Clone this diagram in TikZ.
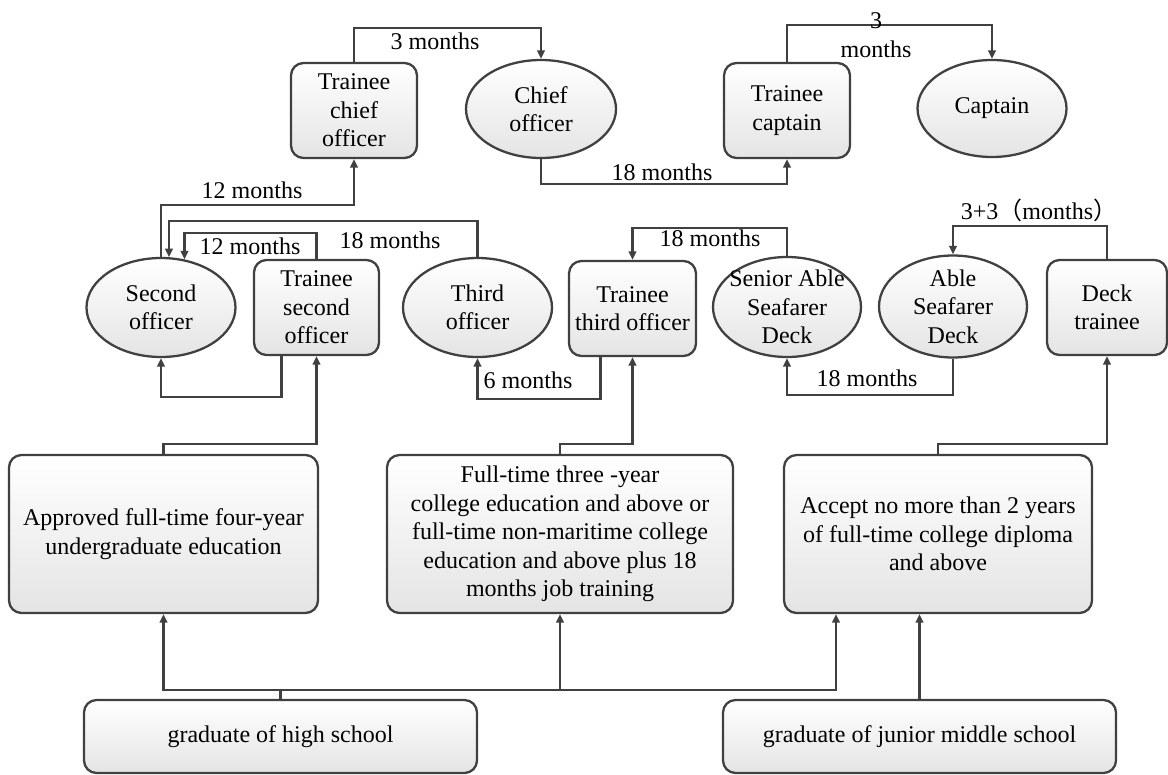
\documentclass[tikz,border=0pt]{standalone}
\usepackage{fontspec}
\setmainfont{Liberation Serif}
\newfontfamily\cjkfont{Noto Sans CJK SC}
\usetikzlibrary{shapes.geometric,arrows.meta,calc}
\definecolor{linec}{HTML}{404040}
\definecolor{fillc}{HTML}{E4E4E4}
\begin{document}
\begin{tikzpicture}[x=0.02cm,y=-0.02cm,
  font=\fontsize{13.66pt}{16.2pt}\selectfont,
  cline/.style={draw=linec, line width=1.3pt},
  arr/.style={cline, -{Triangle[length=0.17cm,width=0.15cm]}},
  abox/.style 2 args={draw=linec, line width=1.3pt, rounded corners=0.25cm,
    top color=white, bottom color=fillc, minimum width=#1*0.02cm,
    minimum height=#2*0.02cm, inner sep=0pt, align=center},
  aell/.style 2 args={ellipse, draw=linec, line width=1.3pt,
    top color=white, bottom color=fillc, minimum width=#1*0.02cm,
    minimum height=#2*0.02cm, inner sep=0pt},
  albl/.style={inner sep=0pt, align=center}
]
\useasboundingbox (0,0) rectangle (1168,774);
\fill[white] (0,0) rectangle (1168,774);

% top row
\node[abox={126}{95}] (tco) at (354,110.5) {Trainee\\chief\\officer};
\node[aell={150}{98}, label={[albl]center:{Chief\\officer}}] (co) at (541,109) {};
\node[abox={126}{95}] (tc) at (787,110.5) {Trainee\\captain};
\node[aell={149}{97}, label={[albl]center:{Captain}}] (cap) at (992,108.5) {};

% middle row
\node[aell={149}{99}, label={[albl]center:{Second\\officer}}] (so) at (161,307.5) {};
\node[abox={125}{95}] (tso) at (316.5,307.5) {Trainee\\second\\officer};
\node[aell={149}{99}, label={[albl]center:{Third\\officer}}] (to) at (477.5,307.5) {};
\node[abox={127}{95}] (tto) at (632.5,308.5) {Trainee\\third officer};
\node[aell={148}{100}, label={[albl]center:{Senior Able\\Seafarer\\Deck}}] (sas) at (787,307) {};
\node[aell={148}{102}, label={[albl]center:{Able\\Seafarer\\Deck}}] (asd) at (953,306.5) {};
\node[abox={120}{95}] (dt) at (1107,307.5) {Deck\\trainee};

% education row
\node[abox={309}{158}] (app) at (163.5,534) {Approved full-time four-year\\undergraduate education};
\node[abox={346}{158}] (ft) at (560,534) {Full-time three -year\\college education and above or\\full-time non-maritime college\\education and above plus 18\\months job training};
\node[abox={308}{158}] (acc) at (938,534) {Accept no more than 2 years\\of full-time college diploma\\and above};

% school row
\node[abox={393}{73}] (ghs) at (280.5,736.5) {graduate of high school};
\node[abox={393}{73}] (gjm) at (919.5,736.5) {graduate of junior middle school};

% connectors top
\draw[arr] (tco.north) -- ++(0,-34) -| (co.north);
\draw[arr] (co.south) -- ++(0,25) -| (tc.south);
\draw[arr] (tc.north) -- ++(0,-37) -| (cap.north);

% connectors middle
\draw[arr] (so.north) -- ++(0,-52) -| (tco.south);
\draw[arr] (to.north) -- ++(0,-36) -| (so.81);
\draw[arr] (tso.north) -- ++(0,-26) -| (so.64);
\draw[arr] ($(tso.south)+(-35,0)$) -- ++(0,41) -| (so.south);
\draw[arr] ($(tto.south)+(-32,0)$) -- ++(0,42) -| (to.south);
\draw[arr] (sas.north) -- ++(0,-28) -| (tto.north);
\draw[arr] (asd.south) -- ++(0,36) -| (sas.south);
\draw[arr] (dt.north) -- ++(0,-33) -| (asd.north);

% connectors education
\draw[arr] (app.north) -- ++(0,-10) -| (tso.south);
\draw[arr] (ft.north) -- ++(0,-10) -| (tto.south);
\draw[arr] (acc.north) -- ++(0,-10) -| (dt.south);

% connectors schools
\draw[cline] (ghs.north) -- ++(0,-9) coordinate (hub);
\draw[arr] (hub) -| (app.south);
\draw[arr] (hub) -| (ft.south);
\draw[arr] (hub) -| ($(acc.south)+(-102,0)$);
\draw[arr] (gjm.north) -- (gjm.north |- acc.south);

% labels
\node[albl] (l1) at (435,41) {3 months};
\node[albl] (l2) at (662,172) {18 months};
\node[albl] (l3) at (876,35) {3\\months};
\node[albl] (l4) at (252,190) {12 months};
\node[albl] (l5) at (390,240) {18 months};
\node[albl] (l6) at (250,246) {12 months};
\node[albl] (l7) at (528,380) {6 months};
\node[albl] (l8) at (710,238) {18 months};
\node[albl] (l9) at (867,378) {18 months};
\node[albl] (l10) at (1039,210) {3+3{\cjkfont （}months{\cjkfont ）}};
\end{tikzpicture}
\end{document}
